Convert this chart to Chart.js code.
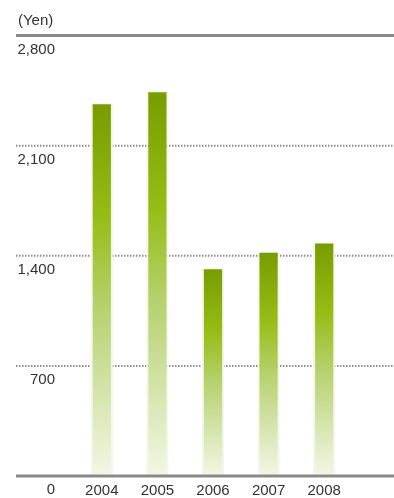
<!DOCTYPE html>
<html>
<head>
<meta charset="utf-8">
<script src="https://cdn.jsdelivr.net/npm/chart.js@4/dist/chart.umd.min.js"></script>
<style>
html,body{margin:0;padding:0;background:#fff;}
#wrap{width:394px;height:498px;position:relative;}
</style>
</head>
<body>
<div id="wrap"><canvas id="c" width="394" height="498"></canvas></div>
<script>
const categories = ['2004', '2005', '2006', '2007', '2008'];
const values = [2370, 2445, 1320, 1425, 1485];
const yTicks = [0, 700, 1400, 2100, 2800];
const unitLabel = '(Yen)';

const FONT = '"Liberation Sans", Arial, sans-serif';

const decor = {
  id: 'decor',
  beforeDatasetsDraw(chart) {
    const ctx = chart.ctx, y = chart.scales.y;
    ctx.save();
    yTicks.forEach(v => {
      const py = y.getPixelForValue(v);
      if (v === y.min) return;
      ctx.beginPath();
      if (v === y.max) {
        ctx.setLineDash([]);
        ctx.lineWidth = 3;
        ctx.strokeStyle = '#8a8a8a';
      } else {
        ctx.setLineDash([1.5, 1.5]);
        ctx.lineWidth = 2;
        ctx.strokeStyle = '#8e8e8e';
      }
      ctx.moveTo(16, py);
      ctx.lineTo(chart.width, py);
      ctx.stroke();
    });
    ctx.restore();
  },
  afterDatasetsDraw(chart) {
    const ctx = chart.ctx, y = chart.scales.y;
    ctx.save();
    const py0 = y.getPixelForValue(0);
    ctx.beginPath();
    ctx.setLineDash([]);
    ctx.lineWidth = 3;
    ctx.strokeStyle = '#8a8a8a';
    ctx.moveTo(16, py0);
    ctx.lineTo(chart.width, py0);
    ctx.stroke();
    ctx.fillStyle = '#333';
    ctx.font = '15px ' + FONT;
    ctx.textAlign = 'right';
    ctx.textBaseline = 'alphabetic';
    yTicks.forEach(v => {
      const py = y.getPixelForValue(v);
      ctx.fillText(v.toLocaleString('en-US'), 55, py + 18);
    });
    ctx.textAlign = 'left';
    ctx.fillText(unitLabel, 18, 25);
    ctx.restore();
  }
};

function barGradient(context) {
  const chart = context.chart;
  const area = chart.chartArea;
  if (!area) return '#8fb40a';
  const ys = chart.scales.y;
  const v = context.raw;
  const top = ys.getPixelForValue(v);
  const bottom = ys.getPixelForValue(0);
  const g = chart.ctx.createLinearGradient(0, top, 0, bottom);
  g.addColorStop(0, '#789b00');
  g.addColorStop(0.3, '#97bc14');
  g.addColorStop(0.55, '#b7d16e');
  g.addColorStop(0.78, '#d5e4ad');
  g.addColorStop(1, '#f3f7e4');
  return g;
}

new Chart(document.getElementById('c'), {
  type: 'bar',
  data: {
    labels: categories,
    datasets: [{
      data: values,
      backgroundColor: barGradient,
      borderColor: '#f3f6ea',
      borderWidth: {left: 2, right: 2, top: 1, bottom: 0},
      borderSkipped: false,
      categoryPercentage: 1,
      barPercentage: 0.4
    }]
  },
  options: {
    responsive: false,
    animation: false,
    devicePixelRatio: 1,
    layout: {padding: {left: 74, right: 42, top: 35.5, bottom: 0}},
    plugins: {legend: {display: false}, tooltip: {enabled: false}, title: {display: false}},
    scales: {
      x: {
        grid: {display: false, drawTicks: false},
        border: {display: false},
        ticks: {color: '#333', font: {family: FONT, size: 15}, padding: 6},
        afterFit(scale) { scale.height = 22; }
      },
      y: {
        display: false,
        min: 0,
        max: 2800,
        ticks: {stepSize: 700}
      }
    }
  },
  plugins: [decor]
});
</script>
</body>
</html>
